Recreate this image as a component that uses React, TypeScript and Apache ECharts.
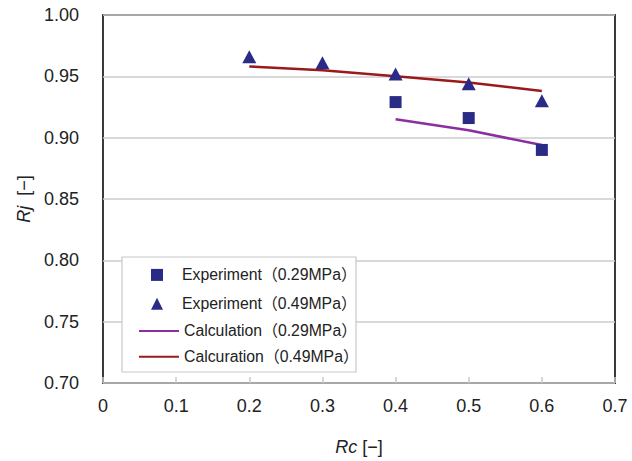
import React, { useEffect, useRef } from "react";
import * as echarts from "echarts";

const rcExp29 = [0.4, 0.5, 0.6];
const rjExp29 = [0.929, 0.916, 0.890];
const rcExp49 = [0.2, 0.3, 0.4, 0.5, 0.6];
const rjExp49 = [0.966, 0.961, 0.952, 0.944, 0.930];
const rcCalc29 = [0.4, 0.5, 0.6];
const rjCalc29 = [0.915, 0.906, 0.894];
const rcCalc49 = [0.2, 0.3, 0.4, 0.5, 0.6];
const rjCalc49 = [0.958, 0.955, 0.950, 0.945, 0.938];
const seriesNames = [
  "Experiment（0.29MPa）",
  "Experiment（0.49MPa）",
  "Calculation（0.29MPa）",
  "Calcuration（0.49MPa）",
];

const FONT = "'Liberation Sans', Arial, 'Noto Sans CJK JP', sans-serif";
const NAVY = "#2a2b86";
const PURPLE = "#8a2fa0";
const DARKRED = "#9a1a1a";

const zip = (xs: number[], ys: number[]) => xs.map((x, i) => [x, ys[i]]);

export default function App() {
  const ref = useRef<HTMLDivElement>(null);
  useEffect(() => {
    if (!ref.current) return;
    const chart = echarts.init(ref.current, undefined, { renderer: "svg" });
    chart.setOption({
      animation: false,
      backgroundColor: "#ffffff",
      textStyle: { fontFamily: FONT },
      grid: {
        left: 103,
        right: 17,
        top: 15,
        bottom: 73,
        show: true,
        borderColor: "#3a3a3a",
        borderWidth: 2,
        backgroundColor: "#ffffff",
      },
      graphic: [
        {
          type: "rect",
          z: 50,
          shape: { x: 122, y: 257, width: 234, height: 115 },
          style: { fill: "#ffffff", stroke: "#c8c8c8", lineWidth: 1.2 },
        },
      ],
      legend: [
        {
          z: 60,
          orient: "vertical",
          left: 146,
          top: 262,
          itemWidth: 12,
          itemHeight: 12,
          itemGap: 13,
          data: [
            { name: seriesNames[0], icon: "rect" },
            { name: seriesNames[1], icon: "triangle" },
          ],
          textStyle: { fontSize: 15.8, color: "#222", fontFamily: FONT, padding: [0, 0, 0, 14] },
        },
        {
          z: 60,
          orient: "vertical",
          left: 133,
          top: 318,
          itemWidth: 40,
          itemHeight: 14,
          itemGap: 10,
          itemStyle: { color: "rgba(0,0,0,0)", borderWidth: 0, opacity: 0 },
          data: [seriesNames[2], seriesNames[3]],
          textStyle: { fontSize: 15.8, color: "#222", fontFamily: FONT },
        },
      ],
      xAxis: {
        type: "value",
        min: 0,
        max: 0.7,
        interval: 0.1,
        name: "{i|Rc} [−]",
        nameLocation: "middle",
        nameGap: 55,
        nameTextStyle: {
          fontSize: 18,
          color: "#222",
          rich: {
            i: { fontStyle: "italic", fontSize: 18, color: "#222", fontFamily: FONT },
          },
        },
        axisLine: { show: false },
        axisTick: { show: true, inside: true, length: 6, lineStyle: { color: "#c8c8c8", width: 1.5 } },
        splitLine: { show: false },
        axisLabel: {
          fontSize: 18,
          color: "#222",
          margin: 14,
          formatter: (v: number) => (v === 0 ? "0" : v.toFixed(1)),
        },
      },
      yAxis: {
        type: "value",
        min: 0.7,
        max: 1.0,
        interval: 0.05,
        name: "{i|Rj}  [−]",
        nameLocation: "middle",
        nameGap: 66,
        nameRotate: 90,
        nameTextStyle: {
          fontSize: 18,
          color: "#222",
          rich: {
            i: { fontStyle: "italic", fontSize: 18, color: "#222", fontFamily: FONT },
          },
        },
        axisLine: { show: false },
        axisTick: { show: false },
        splitLine: { show: true, lineStyle: { color: "#cccccc", width: 1.5 } },
        axisLabel: {
          fontSize: 18,
          color: "#222",
          margin: 24,
          formatter: (v: number) => v.toFixed(2),
        },
      },
      series: [
        {
          name: seriesNames[2],
          type: "line",
          data: zip(rcCalc29, rjCalc29),
          showSymbol: false,
          symbol: "none",
          lineStyle: { color: PURPLE, width: 2.5 },
          itemStyle: { color: PURPLE },
          z: 3,
        },
        {
          name: seriesNames[3],
          type: "line",
          data: zip(rcCalc49, rjCalc49),
          showSymbol: false,
          symbol: "none",
          lineStyle: { color: DARKRED, width: 2.5 },
          itemStyle: { color: DARKRED },
          z: 3,
        },
        {
          name: seriesNames[0],
          type: "scatter",
          data: zip(rcExp29, rjExp29),
          symbol: "rect",
          symbolSize: 12,
          itemStyle: { color: NAVY, opacity: 1 },
          z: 4,
        },
        {
          name: seriesNames[1],
          type: "scatter",
          data: zip(rcExp49, rjExp49),
          symbol: "triangle",
          symbolSize: [14, 13],
          itemStyle: { color: NAVY, opacity: 1 },
          z: 4,
        },
      ],
    });
    return () => chart.dispose();
  }, []);
  return <div ref={ref} style={{ width: 632, height: 461, position: "absolute", left: 0, top: 0 }} />;
}
